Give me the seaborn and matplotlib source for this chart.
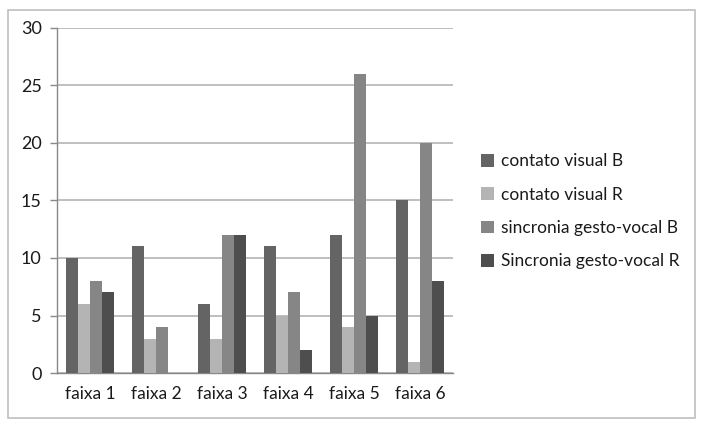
import matplotlib
matplotlib.use("Agg")
import matplotlib.pyplot as plt
import seaborn as sns
import pandas as pd
from matplotlib.patches import Rectangle, Patch

categories = ["faixa 1", "faixa 2", "faixa 3", "faixa 4", "faixa 5", "faixa 6"]
series = ["contato visual B", "contato visual R", "sincronia gesto-vocal B", "Sincronia gesto-vocal R"]
contato_visual_B = [10, 11, 6, 11, 12, 15]
contato_visual_R = [6, 3, 3, 5, 4, 1]
sincronia_B = [8, 4, 12, 7, 26, 20]
sincronia_R = [7, 0, 12, 2, 5, 8]
y_ticks = [0, 5, 10, 15, 20, 25, 30]

colors = ["#646464", "#b4b4b4", "#868686", "#4e4e4e"]

rows = []
for s, vals in zip(series, [contato_visual_B, contato_visual_R, sincronia_B, sincronia_R]):
    for c, v in zip(categories, vals):
        rows.append({"faixa": c, "serie": s, "valor": v})
df = pd.DataFrame(rows)

sns.set_theme(style="white")
plt.rcParams["font.family"] = ["Lato", "DejaVu Sans"]

fig = plt.figure(figsize=(7.03, 4.28), dpi=100)
ax = fig.add_axes([0.0811, 0.1285, 0.5633, 0.8061])

sns.barplot(data=df, x="faixa", y="valor", hue="serie", order=categories,
            hue_order=series, palette=colors, width=0.72, saturation=1,
            edgecolor="none", linewidth=0, ax=ax, legend=False, zorder=3)

ax.set_ylim(0, 30)
ax.set_xlim(-0.5, 5.5)
ax.set_yticks(y_ticks)
ax.set_yticklabels([str(t) for t in y_ticks], fontsize=13, color="#1a1a1a")
ax.yaxis.grid(True, color="#b4b4b4", linewidth=1.2, zorder=0)
ax.set_axisbelow(True)
ax.set_xlabel("")
ax.set_ylabel("")
ax.tick_params(axis="x", which="major", length=0, labelsize=12.5, labelcolor="#1a1a1a", pad=9)
ax.set_xticks([i - 0.5 for i in range(7)], minor=True)
ax.tick_params(axis="x", which="minor", length=5, color="#888888", width=1, direction="out")
ax.tick_params(axis="y", length=5, color="#888888", width=1, direction="out", pad=6, left=True)
for side in ["top", "right"]:
    ax.spines[side].set_visible(False)
ax.spines["left"].set_color("#888888")
ax.spines["bottom"].set_color("#888888")
ax.spines["left"].set_linewidth(1)
ax.spines["bottom"].set_linewidth(1)

handles = [Patch(facecolor=c, edgecolor="none") for c in colors]
leg = fig.legend(handles, series, loc="upper left", bbox_to_anchor=(0.675, 0.658),
                 frameon=False, fontsize=12.5, handlelength=0.75, handleheight=0.75,
                 handletextpad=0.35, labelspacing=1.0, borderaxespad=0)
for t in leg.get_texts():
    t.set_color("#1a1a1a")

border = Rectangle((8 / 703, 10 / 428), 687 / 703, 408 / 428, transform=fig.transFigure,
                   fill=False, edgecolor="#bfbfbf", linewidth=1.2)
fig.patches.append(border)

fig.savefig("out.png", dpi=100, facecolor="white")
